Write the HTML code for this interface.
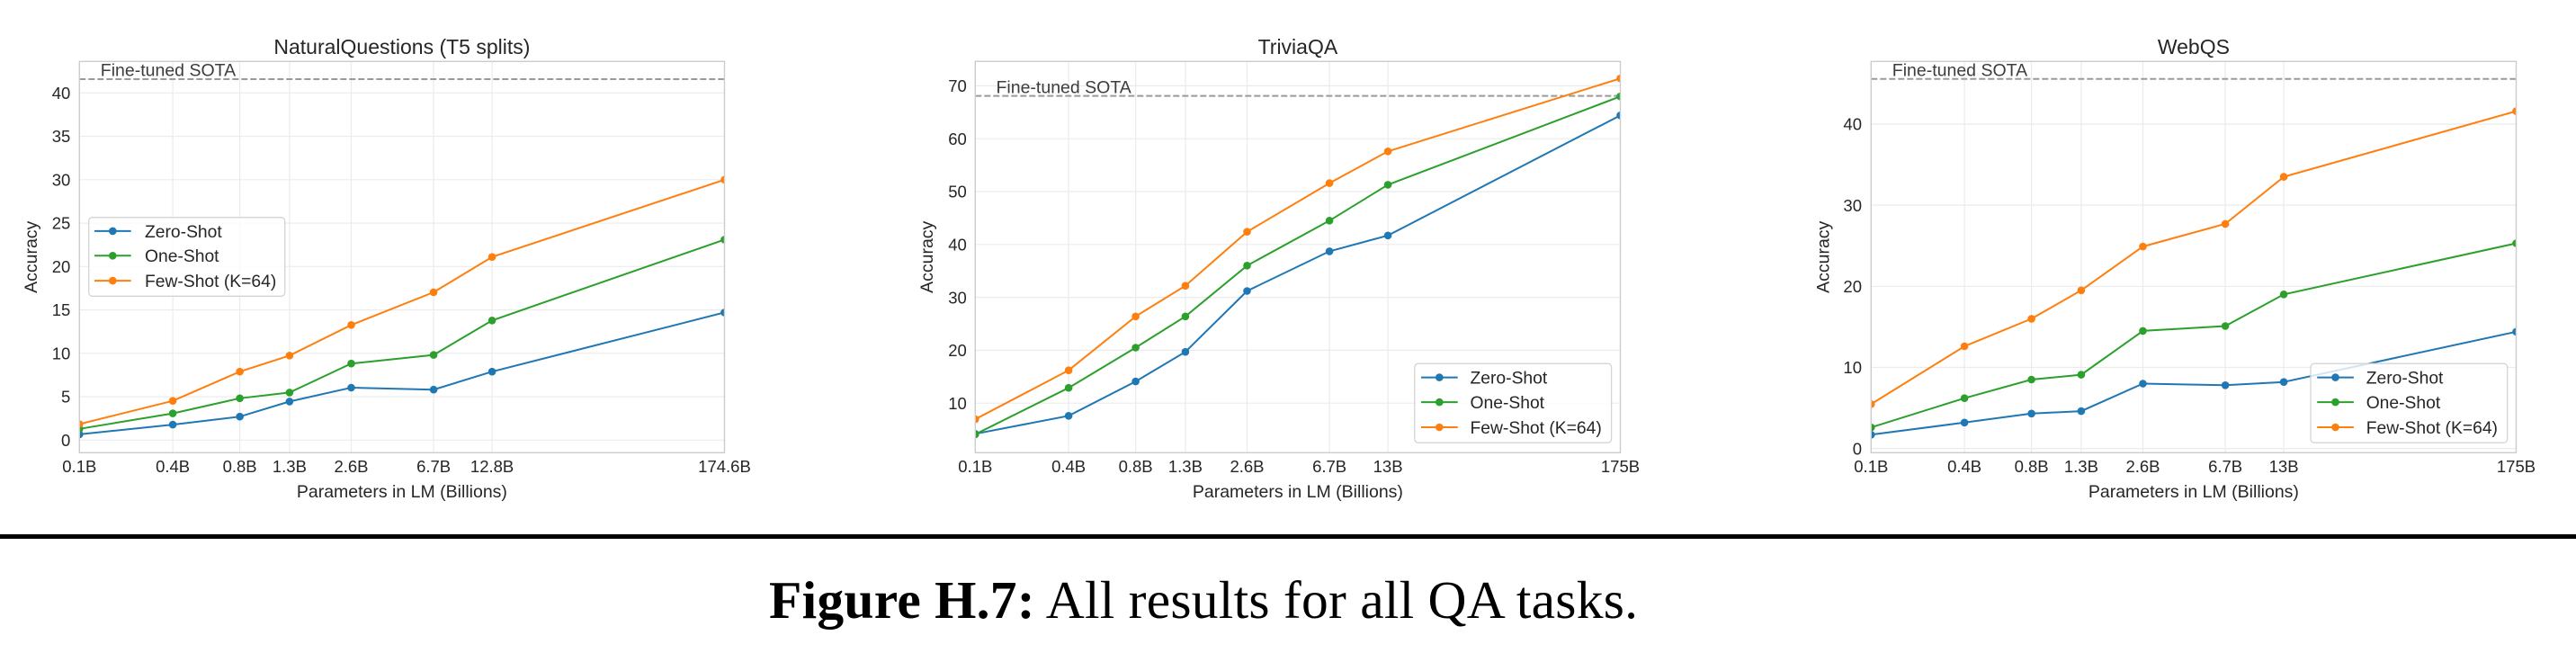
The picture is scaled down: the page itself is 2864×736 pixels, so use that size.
<!DOCTYPE html>
<html><head><meta charset="utf-8"><style>
html,body{margin:0;padding:0;background:#fff;}
svg{display:block;}
text{font-family:"Liberation Sans",Arial,sans-serif;fill:#262626;}
.tk{font-size:18.5px;}
.lb{font-size:19.5px;}
.tt{font-size:23px;}
.lg{font-size:19.3px;}
.grid{stroke:#ebebeb;stroke-width:1.2;}
.spine{fill:none;stroke:#cccccc;stroke-width:1.4;}
.sota{stroke:#9a9a9a;stroke-width:2;stroke-dasharray:7,3;}
.z{stroke:#1f77b4;fill:none;stroke-width:2;}
.o{stroke:#2ca02c;fill:none;stroke-width:2;}
.f{stroke:#ff7f0e;fill:none;stroke-width:2;}
.zm{fill:#1f77b4;}.om{fill:#2ca02c;}.fm{fill:#ff7f0e;}
</style></head><body>
<svg width="2864" height="736" viewBox="0 0 2864 736" xmlns="http://www.w3.org/2000/svg">
<rect width="2864" height="736" fill="#fff"/>
<defs>
<clipPath id="c1"><rect x="88.3" y="68.3" width="717.2" height="435"/></clipPath>
<clipPath id="c2"><rect x="1084.3" y="68.3" width="717.2" height="435"/></clipPath>
<clipPath id="c3"><rect x="2080.3" y="68.3" width="717.2" height="435"/></clipPath>
</defs>

<!-- ================= PANEL 1 ================= -->
<g>
<g class="grid">
<line x1="88.3" y1="489.3" x2="805.5" y2="489.3"/>
<line x1="88.3" y1="441.05" x2="805.5" y2="441.05"/>
<line x1="88.3" y1="392.8" x2="805.5" y2="392.8"/>
<line x1="88.3" y1="344.55" x2="805.5" y2="344.55"/>
<line x1="88.3" y1="296.3" x2="805.5" y2="296.3"/>
<line x1="88.3" y1="248.05" x2="805.5" y2="248.05"/>
<line x1="88.3" y1="199.8" x2="805.5" y2="199.8"/>
<line x1="88.3" y1="151.55" x2="805.5" y2="151.55"/>
<line x1="88.3" y1="103.3" x2="805.5" y2="103.3"/>
<line x1="192.1" y1="68.3" x2="192.1" y2="503.3"/>
<line x1="266.6" y1="68.3" x2="266.6" y2="503.3"/>
<line x1="321.9" y1="68.3" x2="321.9" y2="503.3"/>
<line x1="390.5" y1="68.3" x2="390.5" y2="503.3"/>
<line x1="482.1" y1="68.3" x2="482.1" y2="503.3"/>
<line x1="547.1" y1="68.3" x2="547.1" y2="503.3"/>
</g>
<g clip-path="url(#c1)">
<line class="sota" x1="88.3" y1="88" x2="805.5" y2="88"/>
<polyline class="z" points="88.3,482.9 192.1,472.1 266.6,463.2 321.9,446.4 390.5,431.0 482.1,433.2 547.1,413.2 805.5,347.4"/>
<g class="zm"><circle cx="88.3" cy="482.9" r="4.3"/><circle cx="192.1" cy="472.1" r="4.3"/><circle cx="266.6" cy="463.2" r="4.3"/><circle cx="321.9" cy="446.4" r="4.3"/><circle cx="390.5" cy="431.0" r="4.3"/><circle cx="482.1" cy="433.2" r="4.3"/><circle cx="547.1" cy="413.2" r="4.3"/><circle cx="805.5" cy="347.4" r="4.3"/></g>
<polyline class="o" points="88.3,476.8 192.1,459.6 266.6,442.8 321.9,436.4 390.5,404.2 482.1,394.6 547.1,356.3 805.5,266.4"/>
<g class="om"><circle cx="88.3" cy="476.8" r="4.3"/><circle cx="192.1" cy="459.6" r="4.3"/><circle cx="266.6" cy="442.8" r="4.3"/><circle cx="321.9" cy="436.4" r="4.3"/><circle cx="390.5" cy="404.2" r="4.3"/><circle cx="482.1" cy="394.6" r="4.3"/><circle cx="547.1" cy="356.3" r="4.3"/><circle cx="805.5" cy="266.4" r="4.3"/></g>
<polyline class="f" points="88.3,471.5 192.1,445.7 266.6,413.2 321.9,395.3 390.5,361.3 482.1,324.9 547.1,285.7 805.5,199.8"/>
<g class="fm"><circle cx="88.3" cy="471.5" r="4.3"/><circle cx="192.1" cy="445.7" r="4.3"/><circle cx="266.6" cy="413.2" r="4.3"/><circle cx="321.9" cy="395.3" r="4.3"/><circle cx="390.5" cy="361.3" r="4.3"/><circle cx="482.1" cy="324.9" r="4.3"/><circle cx="547.1" cy="285.7" r="4.3"/><circle cx="805.5" cy="199.8" r="4.3"/></g>
</g>
<rect class="spine" x="88.3" y="68.3" width="717.2" height="435"/>
<text x="111.8" y="84.5" class="lb" style="fill:#3c3c3c">Fine-tuned SOTA</text>
<text x="446.9" y="60" class="tt" text-anchor="middle">NaturalQuestions (T5 splits)</text>
<g class="tk" text-anchor="end">
<text x="78.3" y="496">0</text>
<text x="78.3" y="447.7">5</text>
<text x="78.3" y="399.5">10</text>
<text x="78.3" y="351.2">15</text>
<text x="78.3" y="303">20</text>
<text x="78.3" y="254.7">25</text>
<text x="78.3" y="206.5">30</text>
<text x="78.3" y="158.2">35</text>
<text x="78.3" y="110">40</text>
</g>
<g class="tk" text-anchor="middle">
<text x="88.3" y="525">0.1B</text>
<text x="192.1" y="525">0.4B</text>
<text x="266.6" y="525">0.8B</text>
<text x="321.9" y="525">1.3B</text>
<text x="390.5" y="525">2.6B</text>
<text x="482.1" y="525">6.7B</text>
<text x="547.1" y="525">12.8B</text>
<text x="805.5" y="525">174.6B</text>
</g>
<text x="446.9" y="553" class="lb" text-anchor="middle">Parameters in LM (Billions)</text>
<text transform="translate(41,285.8) rotate(-90)" class="lb" text-anchor="middle">Accuracy</text>
<!-- legend -->
<rect x="98.7" y="241.7" width="218" height="87.6" rx="4" fill="#fff" fill-opacity="0.8" stroke="#d4d4d4" stroke-width="1.3"/>
<line x1="105" y1="256.9" x2="145.7" y2="256.9" class="z"/><circle cx="125.3" cy="256.9" r="4.3" class="zm"/>
<line x1="105" y1="284.3" x2="145.7" y2="284.3" class="o"/><circle cx="125.3" cy="284.3" r="4.3" class="om"/>
<line x1="105" y1="312.1" x2="145.7" y2="312.1" class="f"/><circle cx="125.3" cy="312.1" r="4.3" class="fm"/>
<text x="161" y="263.8" class="lg">Zero-Shot</text>
<text x="161" y="291.2" class="lg">One-Shot</text>
<text x="161" y="319" class="lg">Few-Shot (K=64)</text>
</g>

<!-- ================= PANEL 2 ================= -->
<g>
<g class="grid">
<line x1="1084.3" y1="448.2" x2="1801.5" y2="448.2"/>
<line x1="1084.3" y1="389.4" x2="1801.5" y2="389.4"/>
<line x1="1084.3" y1="330.6" x2="1801.5" y2="330.6"/>
<line x1="1084.3" y1="271.8" x2="1801.5" y2="271.8"/>
<line x1="1084.3" y1="213" x2="1801.5" y2="213"/>
<line x1="1084.3" y1="154.2" x2="1801.5" y2="154.2"/>
<line x1="1084.3" y1="95.4" x2="1801.5" y2="95.4"/>
<line x1="1188.1" y1="68.3" x2="1188.1" y2="503.3"/>
<line x1="1262.6" y1="68.3" x2="1262.6" y2="503.3"/>
<line x1="1317.9" y1="68.3" x2="1317.9" y2="503.3"/>
<line x1="1386.5" y1="68.3" x2="1386.5" y2="503.3"/>
<line x1="1478.1" y1="68.3" x2="1478.1" y2="503.3"/>
<line x1="1543.1" y1="68.3" x2="1543.1" y2="503.3"/>
</g>
<g clip-path="url(#c2)">
<line class="sota" x1="1084.3" y1="106.6" x2="1801.5" y2="106.6"/>
<polyline class="z" points="1084.3,482.3 1188.1,462.3 1262.6,424.1 1317.9,391.2 1386.5,323.5 1478.1,279.4 1543.1,261.8 1801.5,128.3"/>
<g class="zm"><circle cx="1084.3" cy="482.3" r="4.3"/><circle cx="1188.1" cy="462.3" r="4.3"/><circle cx="1262.6" cy="424.1" r="4.3"/><circle cx="1317.9" cy="391.2" r="4.3"/><circle cx="1386.5" cy="323.5" r="4.3"/><circle cx="1478.1" cy="279.4" r="4.3"/><circle cx="1543.1" cy="261.8" r="4.3"/><circle cx="1801.5" cy="128.3" r="4.3"/></g>
<polyline class="o" points="1084.3,482.9 1188.1,431.2 1262.6,386.5 1317.9,351.8 1386.5,295.3 1478.1,245.3 1543.1,205.4 1801.5,107.2"/>
<g class="om"><circle cx="1084.3" cy="482.9" r="4.3"/><circle cx="1188.1" cy="431.2" r="4.3"/><circle cx="1262.6" cy="386.5" r="4.3"/><circle cx="1317.9" cy="351.8" r="4.3"/><circle cx="1386.5" cy="295.3" r="4.3"/><circle cx="1478.1" cy="245.3" r="4.3"/><circle cx="1543.1" cy="205.4" r="4.3"/><circle cx="1801.5" cy="107.2" r="4.3"/></g>
<polyline class="f" points="1084.3,466.1 1188.1,411.7 1262.6,351.8 1317.9,317.7 1386.5,257.7 1478.1,203.6 1543.1,168.3 1801.5,87.2"/>
<g class="fm"><circle cx="1084.3" cy="466.1" r="4.3"/><circle cx="1188.1" cy="411.7" r="4.3"/><circle cx="1262.6" cy="351.8" r="4.3"/><circle cx="1317.9" cy="317.7" r="4.3"/><circle cx="1386.5" cy="257.7" r="4.3"/><circle cx="1478.1" cy="203.6" r="4.3"/><circle cx="1543.1" cy="168.3" r="4.3"/><circle cx="1801.5" cy="87.2" r="4.3"/></g>
</g>
<rect class="spine" x="1084.3" y="68.3" width="717.2" height="435"/>
<text x="1107.5" y="103.6" class="lb" style="fill:#3c3c3c">Fine-tuned SOTA</text>
<text x="1442.9" y="60" class="tt" text-anchor="middle">TriviaQA</text>
<g class="tk" text-anchor="end">
<text x="1074.8" y="454.9">10</text>
<text x="1074.8" y="396.1">20</text>
<text x="1074.8" y="337.3">30</text>
<text x="1074.8" y="278.5">40</text>
<text x="1074.8" y="219.7">50</text>
<text x="1074.8" y="160.9">60</text>
<text x="1074.8" y="102.1">70</text>
</g>
<g class="tk" text-anchor="middle">
<text x="1084.3" y="525">0.1B</text>
<text x="1188.1" y="525">0.4B</text>
<text x="1262.6" y="525">0.8B</text>
<text x="1317.9" y="525">1.3B</text>
<text x="1386.5" y="525">2.6B</text>
<text x="1478.1" y="525">6.7B</text>
<text x="1543.1" y="525">13B</text>
<text x="1801.5" y="525">175B</text>
</g>
<text x="1442.9" y="553" class="lb" text-anchor="middle">Parameters in LM (Billions)</text>
<text transform="translate(1037,285.8) rotate(-90)" class="lb" text-anchor="middle">Accuracy</text>
<rect x="1572.8" y="404.2" width="218.8" height="88" rx="4" fill="#fff" fill-opacity="0.8" stroke="#d4d4d4" stroke-width="1.3"/>
<line x1="1580" y1="419.6" x2="1620.7" y2="419.6" class="z"/><circle cx="1600.3" cy="419.6" r="4.3" class="zm"/>
<line x1="1580" y1="447.1" x2="1620.7" y2="447.1" class="o"/><circle cx="1600.3" cy="447.1" r="4.3" class="om"/>
<line x1="1580" y1="475" x2="1620.7" y2="475" class="f"/><circle cx="1600.3" cy="475" r="4.3" class="fm"/>
<text x="1634.5" y="426.5" class="lg">Zero-Shot</text>
<text x="1634.5" y="454" class="lg">One-Shot</text>
<text x="1634.5" y="481.9" class="lg">Few-Shot (K=64)</text>
</g>

<!-- ================= PANEL 3 ================= -->
<g>
<g class="grid">
<line x1="2080.3" y1="498.6" x2="2797.5" y2="498.6"/>
<line x1="2080.3" y1="408.45" x2="2797.5" y2="408.45"/>
<line x1="2080.3" y1="318.3" x2="2797.5" y2="318.3"/>
<line x1="2080.3" y1="228.15" x2="2797.5" y2="228.15"/>
<line x1="2080.3" y1="138" x2="2797.5" y2="138"/>
<line x1="2184.1" y1="68.3" x2="2184.1" y2="503.3"/>
<line x1="2258.6" y1="68.3" x2="2258.6" y2="503.3"/>
<line x1="2313.9" y1="68.3" x2="2313.9" y2="503.3"/>
<line x1="2382.5" y1="68.3" x2="2382.5" y2="503.3"/>
<line x1="2474.1" y1="68.3" x2="2474.1" y2="503.3"/>
<line x1="2539.1" y1="68.3" x2="2539.1" y2="503.3"/>
</g>
<g clip-path="url(#c3)">
<line class="sota" x1="2080.3" y1="87.8" x2="2797.5" y2="87.8"/>
<polyline class="z" points="2080.3,483.3 2184.1,469.8 2258.6,459.8 2313.9,457.1 2382.5,426.5 2474.1,428.3 2539.1,424.7 2797.5,368.8"/>
<g class="zm"><circle cx="2080.3" cy="483.3" r="4.3"/><circle cx="2184.1" cy="469.8" r="4.3"/><circle cx="2258.6" cy="459.8" r="4.3"/><circle cx="2313.9" cy="457.1" r="4.3"/><circle cx="2382.5" cy="426.5" r="4.3"/><circle cx="2474.1" cy="428.3" r="4.3"/><circle cx="2539.1" cy="424.7" r="4.3"/><circle cx="2797.5" cy="368.8" r="4.3"/></g>
<polyline class="o" points="2080.3,475.2 2184.1,442.7 2258.6,422.0 2313.9,416.6 2382.5,367.9 2474.1,362.5 2539.1,327.3 2797.5,270.5"/>
<g class="om"><circle cx="2080.3" cy="475.2" r="4.3"/><circle cx="2184.1" cy="442.7" r="4.3"/><circle cx="2258.6" cy="422.0" r="4.3"/><circle cx="2313.9" cy="416.6" r="4.3"/><circle cx="2382.5" cy="367.9" r="4.3"/><circle cx="2474.1" cy="362.5" r="4.3"/><circle cx="2539.1" cy="327.3" r="4.3"/><circle cx="2797.5" cy="270.5" r="4.3"/></g>
<polyline class="f" points="2080.3,449.3 2184.1,385.0 2258.6,354.4 2313.9,322.8 2382.5,274.1 2474.1,248.9 2539.1,196.6 2797.5,123.6"/>
<g class="fm"><circle cx="2080.3" cy="449.3" r="4.3"/><circle cx="2184.1" cy="385.0" r="4.3"/><circle cx="2258.6" cy="354.4" r="4.3"/><circle cx="2313.9" cy="322.8" r="4.3"/><circle cx="2382.5" cy="274.1" r="4.3"/><circle cx="2474.1" cy="248.9" r="4.3"/><circle cx="2539.1" cy="196.6" r="4.3"/><circle cx="2797.5" cy="123.6" r="4.3"/></g>
</g>
<rect class="spine" x="2080.3" y="68.3" width="717.2" height="435"/>
<text x="2103.8" y="84.3" class="lb" style="fill:#3c3c3c">Fine-tuned SOTA</text>
<text x="2438.9" y="60" class="tt" text-anchor="middle">WebQS</text>
<g class="tk" text-anchor="end">
<text x="2070" y="505.3">0</text>
<text x="2070" y="415.1">10</text>
<text x="2070" y="325">20</text>
<text x="2070" y="234.8">30</text>
<text x="2070" y="144.7">40</text>
</g>
<g class="tk" text-anchor="middle">
<text x="2080.3" y="525">0.1B</text>
<text x="2184.1" y="525">0.4B</text>
<text x="2258.6" y="525">0.8B</text>
<text x="2313.9" y="525">1.3B</text>
<text x="2382.5" y="525">2.6B</text>
<text x="2474.1" y="525">6.7B</text>
<text x="2539.1" y="525">13B</text>
<text x="2797.5" y="525">175B</text>
</g>
<text x="2438.9" y="553" class="lb" text-anchor="middle">Parameters in LM (Billions)</text>
<text transform="translate(2033.5,285.8) rotate(-90)" class="lb" text-anchor="middle">Accuracy</text>
<rect x="2569" y="404.2" width="218.7" height="88" rx="4" fill="#fff" fill-opacity="0.8" stroke="#d4d4d4" stroke-width="1.3"/>
<line x1="2576.2" y1="419.6" x2="2616.9" y2="419.6" class="z"/><circle cx="2596.5" cy="419.6" r="4.3" class="zm"/>
<line x1="2576.2" y1="447.1" x2="2616.9" y2="447.1" class="o"/><circle cx="2596.5" cy="447.1" r="4.3" class="om"/>
<line x1="2576.2" y1="475" x2="2616.9" y2="475" class="f"/><circle cx="2596.5" cy="475" r="4.3" class="fm"/>
<text x="2630.7" y="426.5" class="lg">Zero-Shot</text>
<text x="2630.7" y="454" class="lg">One-Shot</text>
<text x="2630.7" y="481.9" class="lg">Few-Shot (K=64)</text>
</g>

<!-- rule and caption -->
<rect x="0" y="594" width="2864" height="5" fill="#000"/>
<text x="855" y="687" textLength="966" lengthAdjust="spacing" style="font-family:'Liberation Serif','Times New Roman',serif;font-size:59.5px;fill:#000"><tspan font-weight="bold">Figure H.7:</tspan> All results for all QA tasks.</text>
</svg>
</body></html>
